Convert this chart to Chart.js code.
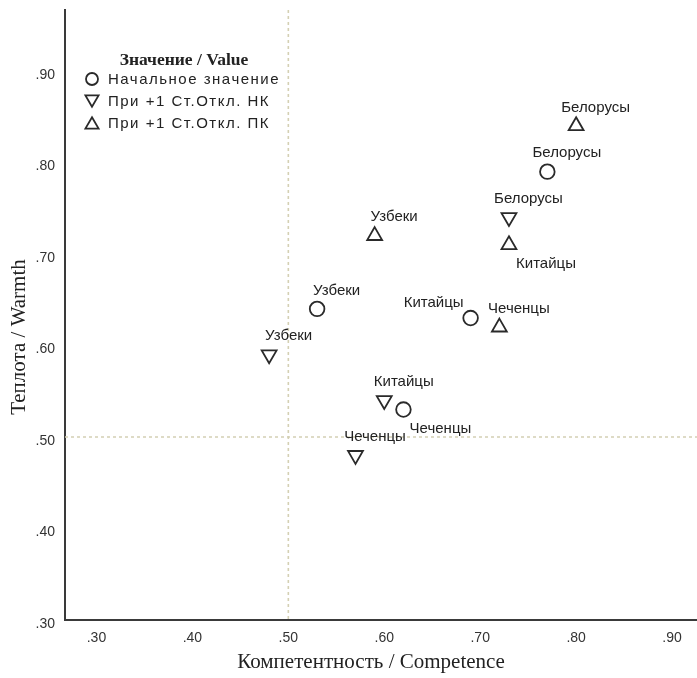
<!DOCTYPE html>
<html>
<head>
<meta charset="utf-8">
<script src="https://cdn.jsdelivr.net/npm/chart.js@4/dist/chart.umd.min.js"></script>
<style>
  html, body { margin: 0; padding: 0; background: #fff; }
  #wrap { width: 697px; height: 678px; }
</style>
</head>
<body>
<div id="wrap"><canvas id="chart" width="697" height="678"></canvas></div>
<script>
// Groups and their positions on the competence / warmth plane
const groups = ['Узбеки', 'Китайцы', 'Чеченцы', 'Белорусы'];

// Initial value
const baseCompetence = [0.53, 0.69, 0.62, 0.77];
const baseWarmth     = [0.64, 0.63, 0.53, 0.79];

// +1 SD on НК
const lowCompetence  = [0.48, 0.60, 0.57, 0.73];
const lowWarmth      = [0.59, 0.54, 0.48, 0.74];

// +1 SD on ПК
const highCompetence = [0.59, 0.73, 0.72, 0.80];
const highWarmth     = [0.72, 0.71, 0.62, 0.84];

const seriesNames = ['Начальное значение', 'При +1 Ст.Откл. НК', 'При +1 Ст.Откл. ПК'];
const legendTitle = 'Значение / Value';
const xTitle = 'Компетентность / Competence';
const yTitle = 'Теплота / Warmth';

const xTicks = [0.30, 0.40, 0.50, 0.60, 0.70, 0.80, 0.90];
const yTicks = [0.30, 0.40, 0.50, 0.60, 0.70, 0.80, 0.90];
const referenceX = 0.50;
const referenceY = 0.50;

const fmt = v => Number(v).toFixed(2).replace(/^0/, '');
const toPoints = (xs, ys) => xs.map((x, i) => ({ x: x, y: ys[i], label: groups[i] }));

const INK = '#2a2a2a';
const SANS = '"Liberation Sans", Arial, sans-serif';
const SERIF = '"Liberation Serif", "Times New Roman", serif';

function markerPath(ctx, style, rotation, r, x, y) {
  ctx.beginPath();
  if (style === 'circle') {
    ctx.arc(x, y, r, 0, Math.PI * 2);
  } else {
    let a = rotation * Math.PI / 180;
    for (let k = 0; k < 3; k++) {
      const px = x + Math.sin(a) * r, py = y - Math.cos(a) * r;
      if (k === 0) ctx.moveTo(px, py); else ctx.lineTo(px, py);
      a += 2 * Math.PI / 3;
    }
    ctx.closePath();
  }
}

// Scales keep their full box: no extra room for edge tick labels
function fixBox(size) {
  return s => {
    if (s.isHorizontal()) s.height = size; else s.width = size;
    s.paddingLeft = 0; s.paddingRight = 0; s.paddingTop = 0; s.paddingBottom = 0;
  };
}

// Dashed reference lines at the scale midpoints
const referenceLines = {
  id: 'referenceLines',
  beforeDatasetsDraw(chart) {
    const { ctx, chartArea, scales } = chart;
    const px = scales.x.getPixelForValue(referenceX);
    const py = scales.y.getPixelForValue(referenceY);
    ctx.save();
    ctx.strokeStyle = '#d4d0b4';
    ctx.lineWidth = 1.6;
    ctx.setLineDash([3, 3]);
    ctx.beginPath();
    ctx.moveTo(px, chartArea.top);
    ctx.lineTo(px, chartArea.bottom);
    ctx.moveTo(chartArea.left, py);
    ctx.lineTo(chartArea.right, py);
    ctx.stroke();
    ctx.restore();
  }
};

// Group name next to each marker
const pointLabels = {
  id: 'pointLabels',
  afterDatasetsDraw(chart, args, opts) {
    const { ctx } = chart;
    ctx.save();
    ctx.font = '15px ' + SANS;
    ctx.fillStyle = '#222';
    ctx.textAlign = 'center';
    ctx.textBaseline = 'middle';
    chart.data.datasets.forEach((ds, di) => {
      const meta = chart.getDatasetMeta(di);
      const places = opts.placement[di] || [];
      meta.data.forEach((el, i) => {
        const off = opts.offsets[places[i] || 'above'];
        ctx.fillText(ds.data[i].label, el.x + off[0], el.y + off[1]);
      });
    });
    ctx.restore();
  }
};

// Legend block in the upper left of the plot
const valueLegend = {
  id: 'valueLegend',
  afterDraw(chart) {
    const { ctx } = chart;
    ctx.save();
    ctx.fillStyle = '#222';
    ctx.font = 'bold 17.5px ' + SERIF;
    ctx.textAlign = 'center';
    ctx.textBaseline = 'middle';
    ctx.fillText(legendTitle, 184, 60);
    ctx.textAlign = 'left';
    ctx.font = '15px ' + SANS;
    try { ctx.letterSpacing = '1.5px'; } catch (e) {}
    chart.data.datasets.forEach((ds, di) => {
      const y = 79 + di * 22;
      ctx.strokeStyle = INK;
      ctx.lineWidth = 1.8;
      const r = ds.pointStyle === 'circle' ? 6 : 7.6;
      const dy = ds.pointStyle === 'circle' ? 0 : (ds.rotation === 180 ? -1.8 : 1.8);
      markerPath(ctx, ds.pointStyle, ds.rotation || 0, r, 92, y + dy);
      ctx.stroke();
      ctx.fillText(ds.label, 108, y + 1);
    });
    ctx.restore();
  }
};

// Axis titles
const axisTitles = {
  id: 'axisTitles',
  afterDraw(chart) {
    const { ctx } = chart;
    ctx.save();
    ctx.fillStyle = '#222';
    ctx.font = '21px ' + SERIF;
    ctx.textAlign = 'center';
    ctx.textBaseline = 'alphabetic';
    ctx.fillText(xTitle, 371, 668);
    ctx.translate(25, 337);
    ctx.rotate(-Math.PI / 2);
    ctx.fillText(yTitle, 0, 0);
    ctx.restore();
  }
};

const common = {
  borderColor: INK,
  backgroundColor: 'rgba(0,0,0,0)',
  pointBorderWidth: 1.8,
  pointHoverRadius: 8,
  showLine: false
};

new Chart(document.getElementById('chart'), {
  type: 'scatter',
  data: {
    datasets: [
      Object.assign({ label: seriesNames[0], data: toPoints(baseCompetence, baseWarmth),
        pointStyle: 'circle', pointRadius: 7.3, rotation: 0 }, common),
      Object.assign({ label: seriesNames[1], data: toPoints(lowCompetence, lowWarmth),
        pointStyle: 'triangle', pointRadius: 8.6, rotation: 180 }, common),
      Object.assign({ label: seriesNames[2], data: toPoints(highCompetence, highWarmth),
        pointStyle: 'triangle', pointRadius: 8.6, rotation: 0 }, common)
    ]
  },
  options: {
    responsive: false,
    animation: false,
    devicePixelRatio: 1,
    layout: { autoPadding: false, padding: { top: 10, left: 0, right: 0, bottom: 0 } },
    plugins: {
      legend: { display: false },
      tooltip: { enabled: false },
      pointLabels: {
        offsets: { above: [19.5, -18.5], below: [37, 19], left: [-37, -15] },
        placement: [
          ['above', 'left', 'below', 'above'],
          ['above', 'above', 'above', 'above'],
          ['above', 'below', 'above', 'above']
        ]
      }
    },
    scales: {
      x: {
        type: 'linear',
        min: 0.2672,
        max: 0.926,
        afterBuildTicks: s => { s.ticks = xTicks.map(v => ({ value: v })); },
        afterFit: fixBox(58),
        grid: { display: false, drawTicks: false },
        border: { display: true, color: '#3a3a3a', width: 2 },
        ticks: {
          callback: v => fmt(v),
          padding: 10,
          maxRotation: 0,
          autoSkip: false,
          color: '#333',
          font: { family: SANS, size: 14 }
        }
      },
      y: {
        type: 'linear',
        min: 0.30,
        max: 0.9667,
        afterBuildTicks: s => { s.ticks = yTicks.map(v => ({ value: v })); },
        afterFit: fixBox(65),
        grid: { display: false, drawTicks: false },
        border: { display: true, color: '#3a3a3a', width: 2 },
        ticks: {
          callback: v => fmt(v),
          padding: 10,
          labelOffset: 4,
          autoSkip: false,
          color: '#333',
          font: { family: SANS, size: 14 }
        }
      }
    }
  },
  plugins: [referenceLines, pointLabels, valueLegend, axisTitles]
});
</script>
</body>
</html>
